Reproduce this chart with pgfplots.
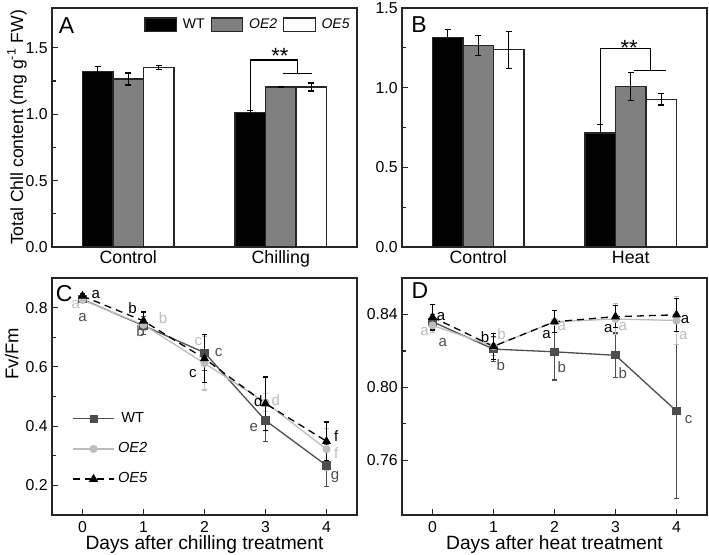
\documentclass[border=0pt]{standalone}
\usepackage{fontspec}
\setmainfont{Liberation Sans}
\usepackage{pgfplots}
\pgfplotsset{compat=1.18}

\definecolor{wtline}{HTML}{4D4D4D}
\definecolor{oetwo}{HTML}{BDBDBD}
\definecolor{bargray}{HTML}{808080}
\definecolor{edge}{HTML}{262626}

\tikzset{panelletter/.style={font=\fontsize{11.5}{12}\selectfont}}

\pgfplotsset{
  panel/.style={
    scale only axis, width=152.5pt, anchor=south west, clip=false,
    axis line style={edge, line width=0.65pt},
    tick align=inside, tick style={edge, line width=0.6pt},
    major tick length=3pt, minor tick length=1.8pt,
    xtick pos=left, ytick pos=left,
    tick label style={font=\fontsize{7.9}{9}\selectfont},
    /pgf/number format/assume math mode=true,
    yticklabel style={inner sep=0pt, xshift=-2pt},
    label style={font=\fontsize{9.6}{11}\selectfont},
  },
  barpanel/.style={
    panel, height=119.5pt, ymin=0,
    xmin=0.5, xmax=2.5, xtick={1,2}, major x tick style={draw=none},
    extra x ticks={1.5}, extra x tick labels={},
    extra x tick style={major tick length=3pt},
    xticklabel style={anchor=base, inner sep=0pt, yshift=-8.5pt,
      font=\fontsize{8.9}{10}\selectfont},
    ytick={0,0.5,1,1.5}, minor y tick num=1,
    yticklabel style={/pgf/number format/.cd, fixed, fixed zerofill, precision=1},
  },
  linepanel/.style={
    panel, height=118.5pt, xmin=-0.5, xmax=4.5, xtick={0,1,2,3,4},
    xticklabel style={anchor=base, inner sep=0pt, yshift=-9pt},
    xlabel style={at={(axis description cs:0.5,0)}, anchor=base, yshift=-17.5pt},
    every axis plot/.append style={line width=0.65pt},
  },
  bar/.style={ybar, bar width=0.2, bar shift=0, draw=edge, line width=0.6pt,
    error bars/y dir=both, error bars/y explicit,
    error bars/error bar style={black, line width=0.6pt},
    error bars/error mark options={black, rotate=90, mark size=1.5pt, line width=0.6pt}},
  ser/.style={error bars/y dir=both, error bars/y explicit,
    error bars/error bar style={solid, line width=0.6pt},
    error bars/error mark options={solid, rotate=90, mark size=1.3pt, line width=0.6pt}},
}

\begin{document}
\begin{tikzpicture}
\useasboundingbox (0,0) rectangle (354.5pt,277.5pt);

% ---- A: chlorophyll, chilling
\begin{axis}[barpanel, at={(26pt,154pt)}, ymax=1.8,
  xticklabels={Control,Chilling},
  ylabel={Total Chll content (mg g\textsuperscript{-1} FW)},
  ylabel style={at={(axis description cs:-0.1148,0.5)}, anchor=center,
    font=\fontsize{8.8}{10}\selectfont},
  legend image code/.code={\draw[#1] (0pt,-3.35pt) rectangle (15.8pt,3.35pt);},
  legend style={at={(axis description cs:0.3016,0.93)}, anchor=west,
    draw=none, fill=none, inner sep=0pt, legend columns=3,
    font=\fontsize{7}{8}\selectfont, nodes={inner sep=2.9pt}},
]
\addplot[bar, fill=black] coordinates {(0.8,1.32) +- (0,0.04) (1.8,1.01) +- (0,0.02)};
\addplot[bar, fill=bargray] coordinates {(1.0,1.265) +- (0,0.045) (2.0,1.205) +- (0,0.006)};
\addplot[bar, fill=white] coordinates {(1.2,1.35) +- (0,0.015) (2.2,1.205) +- (0,0.03)};
\legend{WT,\textit{OE2},\textit{OE5}}
\draw[black, line width=0.6pt] (axis cs:1.8,1.03) |- (axis cs:2.11,1.408) -- (axis cs:2.11,1.307);
\draw[black, line width=0.6pt] (axis cs:2.013,1.307) -- (axis cs:2.207,1.307);
\node[anchor=north, inner sep=0pt, font=\fontsize{11}{12}\selectfont] at (axis cs:1.995,1.50) {**};
\node[panelletter] at (axis description cs:0.048,0.925) {A};
\end{axis}

% ---- B: chlorophyll, heat
\begin{axis}[barpanel, at={(201pt,154pt)}, ymax=1.5,
  xticklabels={Control,Heat},
]
\addplot[bar, fill=black] coordinates {(0.8,1.314) +- (0,0.05) (1.8,0.716) +- (0,0.055)};
\addplot[bar, fill=bargray] coordinates {(1.0,1.264) +- (0,0.062) (2.0,1.006) +- (0,0.088)};
\addplot[bar, fill=white] coordinates {(1.2,1.237) +- (0,0.115) (2.2,0.927) +- (0,0.036)};
\draw[black, line width=0.6pt] (axis cs:1.8,0.772) |- (axis cs:2.13,1.247) -- (axis cs:2.13,1.107);
\draw[black, line width=0.6pt] (axis cs:2.021,1.107) -- (axis cs:2.231,1.107);
\node[anchor=north, inner sep=0pt, font=\fontsize{11}{12}\selectfont] at (axis cs:1.99,1.30) {**};
\node[panelletter] at (axis description cs:0.056,0.93) {B};
\end{axis}

% ---- C: Fv/Fm, chilling
\begin{axis}[linepanel, at={(26pt,20pt)}, ymin=0.1, ymax=0.9,
  ytick={0.2,0.4,0.6,0.8}, minor y tick num=1,
  yticklabel style={/pgf/number format/.cd, fixed, fixed zerofill, precision=1},
  xlabel={Days after chilling treatment},
  ylabel={Fv/Fm},
  ylabel style={at={(axis description cs:-0.132,0.68)}, anchor=center,
    font=\fontsize{9.2}{10}\selectfont},
  legend image code/.code={\draw[mark repeat=2, mark phase=2, #1]
    plot coordinates {(0pt,0pt) (10.4pt,0pt) (20.8pt,0pt)};},
  legend style={at={(axis description cs:0.0646,0.2785)}, anchor=west,
    draw=none, fill=none, inner sep=0pt, row sep=5.5pt,
    font=\fontsize{7.3}{8}\selectfont, nodes={inner sep=1.5pt}},
]
\addplot[ser, wtline, mark=square*, mark size=1.7pt] coordinates {
  (0,0.828) +- (0,0.01) (1,0.739) +- (0,0.03) (2,0.648) +- (0,0.06)
  (3,0.419) +- (0,0.07) (4,0.267) +- (0,0.072)};
\addplot[ser, oetwo, mark=*, mark size=1.7pt] coordinates {
  (0,0.826) +- (0,0.01) (1,0.742) +- (0,0.02) (2,0.612) +- (0,0.09)
  (3,0.480) +- (0,0.03) (4,0.322) +- (0,0.07)};
\addplot[ser, black, dashed, dash pattern=on 3.5pt off 2.5pt, mark=triangle*, mark size=2pt, mark options={solid}] coordinates {
  (0,0.839) +- (0,0.01) (1,0.755) +- (0,0.03) (2,0.628) +- (0,0.08)
  (3,0.476) +- (0,0.09) (4,0.349) +- (0,0.065)};
\legend{WT,\textit{OE2},\textit{OE5}}
\begin{scope}[every node/.style={font=\fontsize{7.5}{8}\selectfont, inner sep=0pt}]
\node[black] at (axis cs:0.22,0.843) {a};
\node[oetwo] at (axis cs:-0.11,0.809) {a};
\node[wtline] at (axis cs:0.0,0.766) {a};
\node[black] at (axis cs:0.82,0.798) {b};
\node[oetwo] at (axis cs:1.32,0.764) {b};
\node[wtline] at (axis cs:0.95,0.719) {b};
\node[oetwo] at (axis cs:1.90,0.686) {c};
\node[wtline] at (axis cs:2.23,0.649) {c};
\node[black] at (axis cs:1.81,0.578) {c};
\node[black] at (axis cs:2.88,0.483) {d};
\node[oetwo] at (axis cs:3.17,0.487) {d};
\node[wtline] at (axis cs:2.81,0.395) {e};
\node[black] at (axis cs:4.16,0.366) {f};
\node[oetwo] at (axis cs:4.16,0.310) {f};
\node[wtline] at (axis cs:4.14,0.227) {g};
\end{scope}
\node[panelletter] at (axis description cs:0.04,0.935) {C};
\end{axis}

% ---- D: Fv/Fm, heat
\begin{axis}[linepanel, at={(201pt,20pt)}, ymin=0.73, ymax=0.86,
  ytick={0.76,0.80,0.84}, minor y tick num=1,
  yticklabel style={/pgf/number format/.cd, fixed, fixed zerofill, precision=2},
  xlabel={Days after heat treatment},
]
\addplot[ser, wtline, mark=square*, mark size=1.7pt] coordinates {
  (0,0.836) +- (0,0.004) (1,0.821) +- (0,0.007) (2,0.8195) +- (0,0.0155)
  (3,0.8176) +- (0,0.0122) (4,0.787) +- (0,0.048)};
\addplot[ser, oetwo, mark=*, mark size=1.7pt] coordinates {
  (0,0.834) +- (0,0.004) (1,0.8225) +- (0,0.005) (2,0.836) +- (0,0.006)
  (3,0.8375) +- (0,0.0085) (4,0.8367) +- (0,0.013)};
\addplot[ser, black, dashed, dash pattern=on 3.5pt off 2.5pt, mark=triangle*, mark size=2pt, mark options={solid}] coordinates {
  (0,0.8385) +- (0,0.007) (1,0.8225) +- (0,0.007) (2,0.836) +- (0,0.006)
  (3,0.8388) +- (0,0.006) (4,0.8398) +- (0,0.009)};
\begin{scope}[every node/.style={font=\fontsize{7.5}{8}\selectfont, inner sep=0pt}]
\node[black] at (axis cs:0.14,0.8391) {a};
\node[oetwo] at (axis cs:-0.13,0.8309) {a};
\node[wtline] at (axis cs:0.17,0.8245) {a};
\node[black] at (axis cs:0.86,0.8273) {b};
\node[oetwo] at (axis cs:1.13,0.8291) {b};
\node[wtline] at (axis cs:1.12,0.8122) {b};
\node[black] at (axis cs:1.87,0.8291) {a};
\node[oetwo] at (axis cs:2.12,0.8336) {a};
\node[wtline] at (axis cs:2.12,0.8113) {b};
\node[black] at (axis cs:2.88,0.8322) {a};
\node[oetwo] at (axis cs:3.12,0.8336) {a};
\node[wtline] at (axis cs:3.12,0.8078) {b};
\node[black] at (axis cs:4.14,0.8372) {a};
\node[oetwo] at (axis cs:4.11,0.8286) {a};
\node[wtline] at (axis cs:4.20,0.7823) {c};
\end{scope}
\node[panelletter] at (axis description cs:0.059,0.945) {D};
\end{axis}
\end{tikzpicture}
\end{document}
